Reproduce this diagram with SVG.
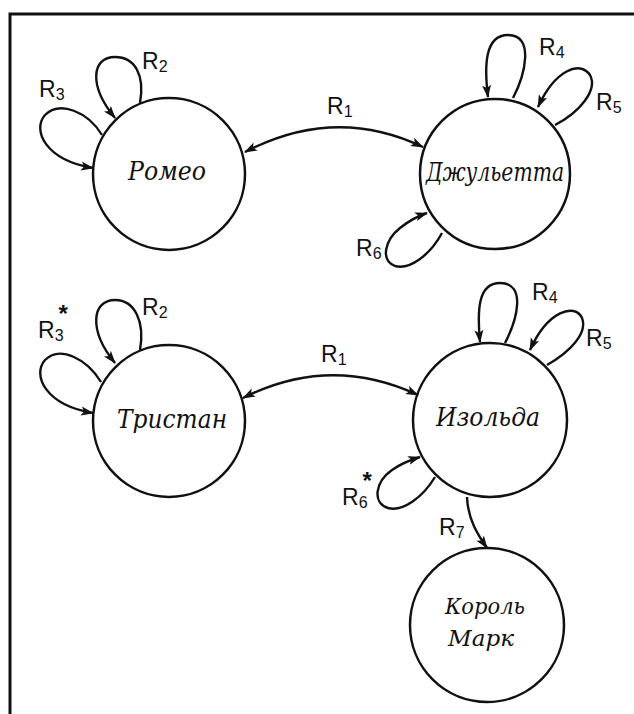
<svg xmlns="http://www.w3.org/2000/svg" width="634" height="714" viewBox="0 0 634 714">
<style>
.node circle{fill:#fff;stroke:#111;stroke-width:2.5}
.name{font-family:"DejaVu Serif","Liberation Serif",serif;font-style:italic;font-size:26px;fill:#111;text-anchor:middle}
.small{font-size:23px}
.lbl{font-family:"Liberation Sans","DejaVu Sans",sans-serif;font-size:23px;fill:#111}
.sub{font-size:16px}
.star{font-size:24px;font-weight:bold}
.edge{fill:none;stroke:#111;stroke-width:2.4;marker-end:url(#ah)}
.frame{stroke:#111;stroke-width:3;fill:none}
</style>
<defs>
<marker id="ah" markerUnits="userSpaceOnUse" markerWidth="14" markerHeight="10" refX="12" refY="5" orient="auto-start-reverse">
<path d="M0,0.5 L13,5 L0,9.5 L3,5 z" fill="#111"/>
</marker>
</defs>
<rect width="634" height="714" fill="#fff"/>
<path class="frame" d="M10,714 L10,14 L634,14"/>

<g id="romeo" class="node">
<circle cx="169" cy="174" r="76"/>
<text class="name" x="167" y="180" textLength="78" lengthAdjust="spacingAndGlyphs">Ромео</text>
</g>
<g id="juliet" class="node">
<circle cx="495" cy="174" r="75"/>
<text class="name" x="495" y="181" textLength="138" lengthAdjust="spacingAndGlyphs">Джульетта</text>
</g>
<g id="tristan" class="node">
<circle cx="169" cy="421" r="76"/>
<text class="name" x="172" y="428" textLength="110" lengthAdjust="spacingAndGlyphs">Тристан</text>
</g>
<g id="isolde" class="node">
<circle cx="490" cy="420" r="77"/>
<text class="name" x="488" y="426" textLength="104" lengthAdjust="spacingAndGlyphs">Изольда</text>
</g>
<g id="mark" class="node">
<circle cx="487" cy="625" r="77"/>
<text class="name small" x="485" y="614" textLength="80" lengthAdjust="spacingAndGlyphs">Король</text>
<text class="name small" x="481" y="646" textLength="66" lengthAdjust="spacingAndGlyphs">Марк</text>
</g>

<g id="connectors">
<path class="edge" style="marker-start:url(#ah)" d="M245,152 Q335,105 423,147"/>
<path class="edge" d="M140,103 C145,75 135,57 115,57 C92,57 88,85 115,118"/>
<path class="edge" d="M102,135 C88,112 60,100 45,115 C32,130 45,160 93,168"/>
<path class="edge" d="M513,98 C525,75 535,35 508,35 C485,35 484,65 488,97"/>
<path class="edge" d="M555,125 C580,112 598,90 590,75 C580,60 555,70 538,107"/>
<path class="edge" d="M442,233 C430,255 410,270 395,266 C380,260 385,240 400,228 C410,220 418,216 427,213"/>

<path class="edge" style="marker-start:url(#ah)" d="M243,398 Q330,354 418,395"/>
<path class="edge" d="M140,350 C145,322 135,300 115,300 C92,300 88,330 115,363"/>
<path class="edge" d="M101,382 C87,359 60,345 45,360 C32,375 45,405 93,413"/>
<path class="edge" d="M505,343 C517,320 527,283 500,283 C478,283 477,310 480,342"/>
<path class="edge" d="M547,365 C570,352 588,333 582,318 C575,303 548,310 530,350"/>
<path class="edge" d="M435,477 C423,497 403,512 388,508 C372,503 375,482 392,470 C402,463 410,460 420,457"/>
<path class="edge" d="M467,497 C468,520 478,535 487,548"/>

<text class="lbl" x="327" y="114">R<tspan class="sub" dy="3">1</tspan></text>
<text class="lbl" x="142" y="69">R<tspan class="sub" dy="3">2</tspan></text>
<text class="lbl" x="39" y="97">R<tspan class="sub" dy="3">3</tspan></text>
<text class="lbl" x="539" y="55">R<tspan class="sub" dy="3">4</tspan></text>
<text class="lbl" x="596" y="110">R<tspan class="sub" dy="3">5</tspan></text>
<text class="lbl" x="356" y="256">R<tspan class="sub" dy="3">6</tspan></text>

<text class="lbl" x="321" y="362">R<tspan class="sub" dy="3">1</tspan></text>
<text class="lbl" x="142" y="315">R<tspan class="sub" dy="3">2</tspan></text>
<text class="lbl" x="38" y="338">R<tspan class="sub" dy="3">3</tspan><tspan class="star" dx="-5" dy="-19">*</tspan></text>
<text class="lbl" x="532" y="300">R<tspan class="sub" dy="3">4</tspan></text>
<text class="lbl" x="586" y="346">R<tspan class="sub" dy="3">5</tspan></text>
<text class="lbl" x="342" y="505">R<tspan class="sub" dy="3">6</tspan><tspan class="star" dx="-5" dy="-19">*</tspan></text>
<text class="lbl" x="439" y="535">R<tspan class="sub" dy="3">7</tspan></text>
</g>
</svg>
